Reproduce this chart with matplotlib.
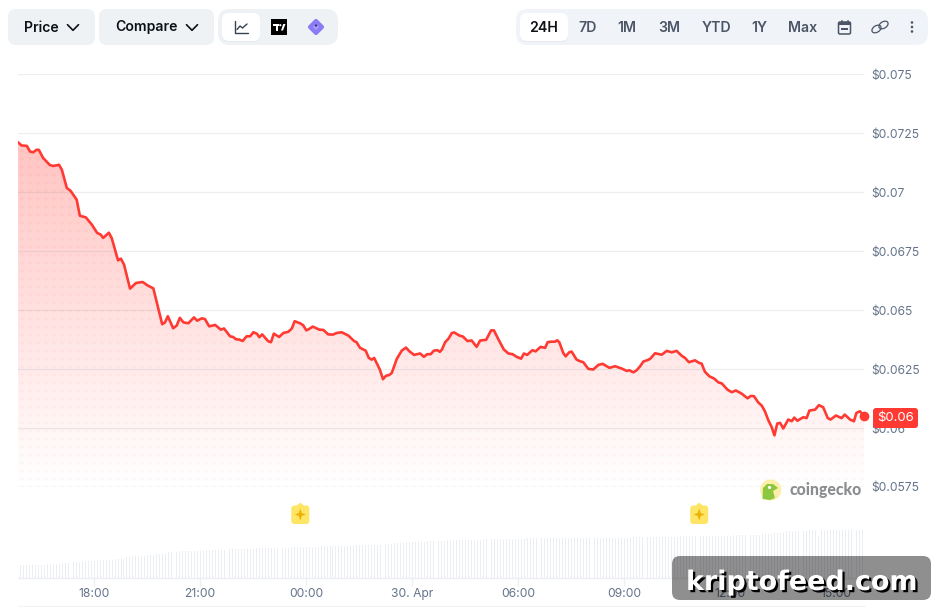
import numpy as np
import matplotlib
matplotlib.use('Agg')
import matplotlib.pyplot as plt
import matplotlib.patheffects as pe
from matplotlib.patches import Circle, Ellipse, FancyBboxPatch, Polygon
from matplotlib.colors import to_rgb

plt.rcParams['font.family'] = ['Inter', 'DejaVu Sans']

# hours counted from midnight on 29 Apr, so 24 is 00:00 and 39 is 15:00 next day
times = [
    15.85, 15.95, 16.10, 16.19, 16.28, 16.38, 16.44, 16.56, 16.75, 16.85, 17.01, 17.09,
    17.23, 17.34, 17.51, 17.60, 17.77, 17.94, 18.09, 18.19, 18.26, 18.42, 18.50, 18.68,
    18.76, 18.85, 19.02, 19.19, 19.38, 19.51, 19.68, 19.93, 20.01, 20.09, 20.24, 20.34,
    20.43, 20.53, 20.67, 20.83, 20.92, 21.05, 21.14, 21.26, 21.43, 21.59, 21.68, 21.85,
    21.94, 22.02, 22.11, 22.21, 22.32, 22.42, 22.51, 22.61, 22.68, 22.76, 22.93, 23.01,
    23.09, 23.24, 23.36, 23.50, 23.60, 23.68, 23.83, 23.92, 24.01, 24.09, 24.19, 24.38,
    24.49, 24.63, 24.76, 24.87, 25.01, 25.20, 25.36, 25.43, 25.53, 25.69, 25.78, 25.86,
    25.93, 26.09, 26.18, 26.26, 26.36, 26.43, 26.57, 26.71, 26.83, 26.93, 27.06, 27.23,
    27.34, 27.43, 27.53, 27.62, 27.72, 27.79, 27.85, 27.94, 28.03, 28.13, 28.20, 28.34,
    28.44, 28.57, 28.69, 28.83, 28.93, 29.10, 29.24, 29.32, 29.44, 29.60, 29.73, 29.85,
    29.96, 30.09, 30.17, 30.26, 30.41, 30.50, 30.64, 30.77, 30.84, 30.93, 31.05, 31.11,
    31.17, 31.28, 31.35, 31.45, 31.52, 31.66, 31.76, 31.85, 31.99, 32.13, 32.28, 32.40,
    32.59, 32.75, 32.94, 33.08, 33.15, 33.27, 33.36, 33.46, 33.55, 33.65, 33.74, 33.88,
    34.07, 34.21, 34.35, 34.49, 34.63, 34.73, 34.84, 35.01, 35.13, 35.20, 35.29, 35.42,
    35.55, 35.67, 35.77, 35.93, 36.05, 36.17, 36.33, 36.50, 36.59, 36.68, 36.80, 36.90,
    36.99, 37.09, 37.18, 37.26, 37.34, 37.42, 37.51, 37.65, 37.75, 37.82, 37.91, 38.08,
    38.17, 38.25, 38.41, 38.52, 38.64, 38.77, 38.85, 39.00, 39.16, 39.25, 39.40, 39.51,
    39.58, 39.68, 39.80,
]
prices = [
    .07211, .07198, .07196, .07172, .07169, .07180, .07179, .07145, .07115, .07111, .07116, .07095,
    .07018, .07005, .06968, .06900, .06893, .06862, .06827, .06820, .06806, .06828, .06806, .06711,
    .06718, .06693, .06591, .06615, .06619, .06605, .06592, .06440, .06448, .06474, .06423, .06434,
    .06467, .06448, .06444, .06469, .06455, .06465, .06462, .06431, .06437, .06417, .06422, .06389,
    .06386, .06376, .06375, .06369, .06389, .06389, .06406, .06400, .06385, .06397, .06368, .06364,
    .06400, .06386, .06403, .06408, .06422, .06453, .06444, .06436, .06414, .06420, .06430, .06417,
    .06416, .06397, .06396, .06403, .06406, .06392, .06369, .06364, .06340, .06328, .06297, .06290,
    .06297, .06248, .06207, .06221, .06225, .06234, .06293, .06328, .06341, .06325, .06310, .06316,
    .06302, .06313, .06313, .06328, .06330, .06323, .06333, .06364, .06378, .06403, .06405, .06392,
    .06388, .06369, .06371, .06344, .06371, .06374, .06414, .06414, .06378, .06333, .06316, .06313,
    .06302, .06294, .06316, .06310, .06330, .06325, .06344, .06340, .06364, .06366, .06366, .06372,
    .06364, .06319, .06304, .06321, .06324, .06290, .06283, .06279, .06251, .06248, .06268, .06272,
    .06255, .06262, .06252, .06242, .06245, .06236, .06245, .06262, .06282, .06287, .06293, .06317,
    .06311, .06327, .06321, .06327, .06307, .06297, .06279, .06287, .06276, .06273, .06239, .06219,
    .06210, .06194, .06189, .06163, .06152, .06159, .06146, .06126, .06136, .06135, .06109, .06095,
    .06071, .06032, .06005, .05969, .06019, .06022, .05998, .06036, .06029, .06044, .06031, .06046,
    .06042, .06074, .06078, .06097, .06088, .06042, .06036, .06053, .06042, .06057, .06036, .06029,
    .06064, .06071, .06050,
]
# rolling 24h volume, one bar per 5 minutes, same scale as the bar axis
volumes = [
    13, 13, 13, 13, 13, 13, 13, 13, 13, 13, 14, 14, 14, 14, 14, 15, 15, 15, 15, 16, 16, 16, 16, 17,
    17, 17, 17, 18, 18, 18, 18, 18, 18, 19, 19, 19, 19, 21, 21, 22, 22, 22, 22, 22, 23, 23, 23, 24,
    24, 24, 24, 26, 26, 26, 26, 27, 27, 27, 27, 27, 27, 27, 27, 27, 28, 28, 28, 28, 28, 28, 28, 29,
    29, 29, 29, 29, 29, 29, 29, 29, 29, 30, 30, 30, 30, 30, 30, 30, 30, 30, 30, 30, 30, 31, 31, 31,
    31, 31, 31, 31, 31, 31, 31, 32, 32, 32, 32, 32, 32, 32, 32, 32, 32, 32, 32, 33, 33, 33, 33, 33,
    33, 33, 33, 33, 34, 34, 34, 34, 35, 35, 35, 35, 36, 36, 36, 36, 36, 36, 36, 37, 37, 37, 37, 37,
    37, 37, 38, 38, 38, 38, 38, 38, 38, 38, 38, 38, 38, 38, 39, 39, 39, 39, 39, 39, 39, 39, 39, 39,
    39, 39, 39, 39, 39, 40, 40, 40, 40, 40, 40, 40, 40, 40, 40, 40, 40, 40, 40, 40, 40, 40, 40, 40,
    40, 40, 40, 40, 40, 40, 40, 40, 40, 40, 40, 40, 40, 40, 40, 40, 40, 41, 41, 41, 41, 41, 41, 41,
    41, 41, 41, 41, 41, 41, 41, 41, 41, 42, 42, 42, 42, 42, 42, 42, 42, 42, 42, 42, 42, 42, 42, 42,
    42, 42, 42, 43, 43, 43, 43, 43, 43, 43, 43, 43, 43, 44, 44, 44, 44, 45, 45, 45, 45, 47, 47, 47,
    47, 47, 47, 47, 47, 48, 48, 48, 42, 48, 48, 48, 48, 48, 48, 48, 48, 48, 48, 48, 48, 48, 48, 48,
]
price_ticks = [0.0575, 0.06, 0.0625, 0.065, 0.0675, 0.07, 0.0725, 0.075]
price_labels = ['$0.0575', '$0.06', '$0.0625', '$0.065', '$0.0675', '$0.07', '$0.0725', '$0.075']
time_ticks = [18, 21, 24, 27, 30, 33, 36, 39]
time_labels = ['18:00', '21:00', '00:00', '30. Apr', '06:00', '09:00', '12:00', '15:00']
ranges = ['24H', '7D', '1M', '3M', 'YTD', '1Y', 'Max']
range_x = [544, 588, 627, 669, 716, 759, 803]
event_times = [23.84, 35.13]

RED = '#ff3a33'
GRID = '#eceef1'
W, H = 933, 607
T0, T1 = 15.849, 39.795


def px_axes(fig, x0, y0, x1, y1):
    # axes placed by pixel box, y measured from the top
    return fig.add_axes([x0 / W, 1 - y1 / H, (x1 - x0) / W, (y1 - y0) / H])


fig = plt.figure(figsize=(W / 100, H / 100), dpi=100, facecolor='white')

ax = px_axes(fig, 18, 74.2, 864, 487)
vol = px_axes(fig, 18, 530, 864, 578)
ui = fig.add_axes([0, 0, 1, 1], zorder=5)
ui.set_xlim(0, W)
ui.set_ylim(H, 0)
ui.axis('off')
ui.patch.set_alpha(0)

# price panel
ax.set_yticks(price_ticks, price_labels)
ax.yaxis.tick_right()
ax.tick_params(axis='y', length=0, pad=5.5, labelsize=8.7, labelcolor='#65748b')
ax.set_xticks([])
ax.grid(axis='y', color=GRID, lw=0.9, zorder=1)
ax.set_axisbelow(True)
for s in ax.spines.values():
    s.set_visible(False)

# fill fades out towards the lowest gridline
poly = Polygon(list(zip(times, prices)) + [(times[-1], 0.0575), (times[0], 0.0575)],
               closed=True, transform=ax.transData, fc='none', ec='none')
ax.add_patch(poly)
grad = np.zeros((256, 1, 4))
grad[..., :3] = to_rgb(RED)
grad[:, 0, 3] = np.linspace(0.30, 0.0, 256)
img = ax.imshow(grad, extent=[T0, T1, 0.0575, max(prices)], aspect='auto', zorder=2,
                interpolation='bilinear')
img.set_clip_path(poly)

# dotted texture on top of the fill
dx, dy = np.meshgrid(np.arange(22, 864, 8), np.arange(142.7, 490, 8))
dot_col = np.zeros((dx.size, 4))
dot_col[:, :3] = to_rgb(RED)
dot_col[:, 3] = np.clip((490 - dy.ravel()) / 350, 0, 1) * 0.03 + 0.03
dots = ax.scatter(dx.ravel(), dy.ravel(), s=5.5, c=dot_col, linewidths=0,
                  transform=ui.transData, zorder=3)
dots.set_clip_path(poly)

ax.plot(times, prices, color=RED, lw=1.9, zorder=4, solid_joinstyle='round')
ax.plot(times[-1], prices[-1], 'o', color=RED, ms=7.0, mew=0, zorder=5, clip_on=False)
ax.set_xlim(T0, T1)
ax.set_ylim(0.0575, 0.075)

# volume panel
bar_times = T0 + np.arange(len(volumes)) / 12 * (T1 - T0) / 23.95
vol.bar(bar_times, volumes, width=0.027, color='#ebeef3', linewidth=0)
vol.set_xlim(T0, T1)
vol.set_ylim(0, 48)
vol.set_yticks([])
vol.set_xticks(time_ticks, time_labels)
vol.tick_params(axis='x', length=6, width=0.9, color='#eceff3', pad=1.2, labelsize=8.7,
                labelcolor='#65748b')
for name, s in vol.spines.items():
    s.set_visible(name == 'bottom')
    s.set_color('#eceff3')
    s.set_linewidth(1)
vol.patch.set_alpha(0)
ui.plot([18, 865], [606, 606], color='#f2f3f5', lw=0.9)


def box(x0, y0, x1, y1, r, **kw):
    p = FancyBboxPatch((x0, y0), x1 - x0, y1 - y0, boxstyle=f'round,pad=0,rounding_size={r}', **kw)
    ui.add_patch(p)
    return p


def chevron(cx, cy):
    ui.plot([cx - 5.5, cx, cx + 5.5], [cy - 2.8, cy + 2.8, cy - 2.8], color='#0d1217', lw=1.2,
            solid_capstyle='round', solid_joinstyle='round')


# toolbar, left side
BTN = '#eff2f5'
box(8, 9, 95, 45, 8, fc=BTN, ec='none')
box(99, 9, 214, 45, 8, fc=BTN, ec='none')
ui.text(24, 27.5, 'Price', fontsize=10.1, fontweight='semibold', color='#0d1217', va='center')
ui.text(115, 27.5, 'Compare', fontsize=10.1, fontweight='semibold', color='#0d1217', va='center')
chevron(73, 27.5)
chevron(192, 27.5)

box(218, 9, 338, 45, 12, fc=BTN, ec='none')
box(222, 14, 260, 42, 7, fc='#dfe3e9', ec='none', alpha=0.6)
box(222, 13, 260, 41, 7, fc='white', ec='none')
ui.plot([234.5, 234.5, 248], [21, 33, 33], color='#364152', lw=1, solid_capstyle='round')
ui.plot([237, 240, 242.5, 247], [29.5, 26, 28, 24], color='#364152', lw=1,
        solid_capstyle='round')

ui.add_patch(plt.Rectangle((271, 19), 16, 16, fc='black', ec='none'))
ui.add_patch(plt.Rectangle((273, 24), 5.5, 2, fc='white', ec='none'))
ui.add_patch(plt.Rectangle((275.5, 24), 2, 6.5, fc='white', ec='none'))
ui.add_patch(Circle((280.3, 25.2), 1.1, fc='white', ec='none'))
ui.add_patch(Polygon([(281, 30.5), (283.2, 24), (285.5, 24), (283, 30.5)], fc='white', ec='none'))

ui.add_patch(Polygon([(316, 21), (322, 27), (316, 33), (310, 27)], fc='#a99cf9', ec='#8b7cf6',
                     lw=3, joinstyle='round'))
ui.add_patch(Circle((316, 25.5), 1.1, fc='#2b2560', ec='none'))

# toolbar, right side
box(516, 9, 928, 45, 12, fc='#f0f3f8', ec='none')
box(520, 14, 568, 42, 7, fc='#dfe3e9', ec='none', alpha=0.6)
box(520, 13, 568, 41, 7, fc='white', ec='none')
for i, (lab, x) in enumerate(zip(ranges, range_x)):
    ui.text(x, 27.5, lab, fontsize=10.2, fontweight='semibold', ha='center', va='center',
            color='#0d1217' if i == 0 else '#4b5565')

# calendar, link and menu icons
box(838.5, 22, 850.5, 34, 1.5, fc='none', ec='#4b5565', lw=1.1)
ui.add_patch(plt.Rectangle((838.5, 22), 12, 3, fc='#4b5565', ec='none'))
ui.add_patch(plt.Rectangle((841, 28), 7, 2, fc='#4b5565', ec='none'))
ui.plot([841.5, 841.5], [20.5, 23], color='#4b5565', lw=1.1)
ui.plot([847.5, 847.5], [20.5, 23], color='#4b5565', lw=1.1)
ui.add_patch(Ellipse((876.5, 29), 10, 6.5, angle=-32, fc='none', ec='#4b5565', lw=0.9))
ui.add_patch(Ellipse((883.5, 25), 10, 6.5, angle=-32, fc='none', ec='#4b5565', lw=0.9))
for y in [22.5, 27, 31.5]:
    ui.add_patch(Circle((912, y), 1.3, fc='#4b5565', ec='none'))

# event markers above the volume bars
for t in event_times:
    x = 18 + (t - T0) / (T1 - T0) * 846
    box(x - 9, 505.5, x + 9, 524, 3, fc='#ffe566', ec='none')
    ui.add_patch(Polygon([(x - 4, 506), (x, 502.5), (x + 4, 506)], fc='#ffe566', ec='none'))
    ui.add_patch(Polygon([(x, 508.5), (x + 1.5, 513), (x + 5.5, 514.5), (x + 1.5, 516),
                          (x, 520.5), (x - 1.5, 516), (x - 5.5, 514.5), (x - 1.5, 513)],
                         fc='#eab308', ec='none'))

# last price badge
box(873, 408, 918, 428, 3, fc=RED, ec='none', zorder=6)
ui.text(895.5, 418, '$0.06', fontsize=9.5, color='white', ha='center', va='center', zorder=7)

# coingecko mark
ui.add_patch(Circle((770.7, 490), 10.5, fc='#fbeea6', ec='none'))
ui.add_patch(Polygon([(762.5, 499), (763, 488), (767, 484), (773, 484), (778, 488), (773, 491),
                      (775, 498), (770, 500)], fc='#8dc63f', ec='none', joinstyle='round'))
ui.add_patch(Circle((769.5, 487.5), 1.6, fc='white', ec='none'))
ui.text(789, 489.5, 'coingecko', fontsize=11.3, fontweight='black', color='#8a8d90', va='center',
        family=['Lato', 'DejaVu Sans'])

# site banner
box(672, 556, 931, 600, 8, fc='black', ec='none', alpha=0.44, zorder=8)
ui.text(686, 590, 'kriptofeed.com', fontsize=19.4, fontweight='bold', color='white', va='baseline',
        family='DejaVu Sans', zorder=9,
        path_effects=[pe.withSimplePatchShadow(offset=(1.6, -1.6), shadow_rgbFace='black', alpha=1)])

fig.savefig('out.png', dpi=100)
